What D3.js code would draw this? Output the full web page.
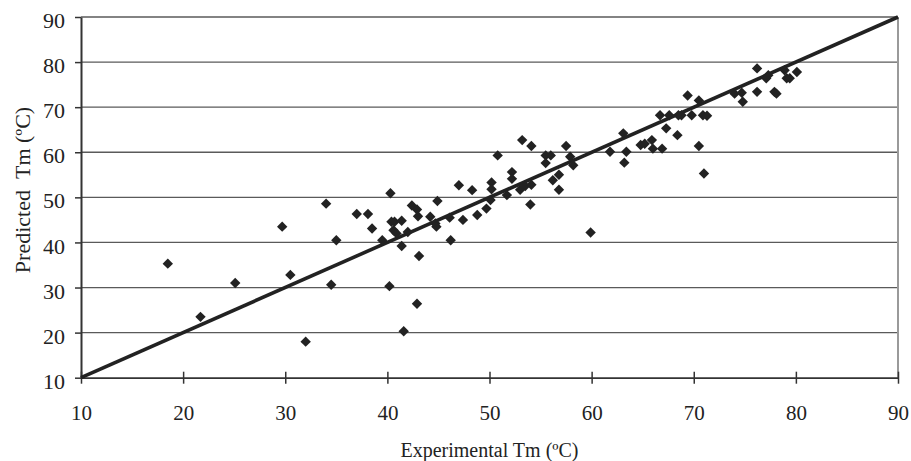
<!DOCTYPE html>
<html>
<head>
<meta charset="utf-8">
<script src="https://cdn.jsdelivr.net/npm/d3@7/dist/d3.min.js"></script>
<style>
  html, body { margin: 0; padding: 0; background: #fff; }
  svg { display: block; font-family: "Liberation Serif", "DejaVu Serif", serif; }
</style>
</head>
<body>
<svg id="chart" width="911" height="461"></svg>
<script>
// Experimental Tm (ºC)
const experimental = [
  18.5, 21.7, 25.1, 29.7, 30.5, 32.0, 34.0, 35.0, 34.5, 37.0,
  38.1, 38.5, 39.5, 40.3, 40.2, 40.4, 40.7, 40.6, 40.9, 41.4,
  41.4, 42.0, 43.1, 42.9, 41.6, 42.4, 42.9, 43.0, 44.2, 44.7,
  44.8, 44.9, 46.2, 46.1, 47.4, 47.0, 48.3, 48.8, 49.7, 50.2,
  50.2, 50.1, 50.8, 51.7, 52.2, 52.2, 53.0, 53.5, 54.1, 53.2,
  54.1, 54.0, 55.5, 56.0, 55.5, 56.2, 56.8, 56.8, 57.5, 57.9,
  58.2, 59.9, 61.8, 63.1, 63.4, 63.2, 64.8, 65.2, 65.9, 66.0,
  66.9, 66.7, 67.6, 68.5, 68.8, 67.3, 68.4, 69.4, 69.8, 70.5,
  70.9, 71.3, 70.5, 71.0, 74.0, 74.7, 74.8, 76.2, 76.2, 77.1,
  77.3, 77.9, 78.1, 78.9, 79.1, 79.4, 80.1
];
// Predicted Tm (ºC)
const predicted = [
  35.3, 23.5, 31.0, 43.5, 32.8, 18.0, 48.6, 40.5, 30.6, 46.3,
  46.3, 43.1, 40.5, 50.9, 30.3, 44.6, 44.6, 42.7, 42.0, 44.8,
  39.2, 42.3, 37.0, 26.4, 20.3, 48.2, 47.3, 45.8, 45.7, 44.2,
  43.5, 49.2, 40.5, 45.5, 45.0, 52.7, 51.6, 46.1, 47.5, 53.3,
  51.8, 49.4, 59.3, 50.5, 55.6, 54.1, 51.7, 52.5, 52.8, 62.7,
  61.4, 48.4, 59.3, 59.3, 57.6, 53.8, 55.0, 51.7, 61.4, 59.0,
  57.1, 42.2, 60.1, 64.2, 60.1, 57.7, 61.6, 61.9, 62.7, 60.8,
  60.8, 68.2, 68.2, 68.2, 68.2, 65.3, 63.8, 72.6, 68.2, 71.5,
  68.2, 68.1, 61.4, 55.3, 73.0, 73.2, 71.2, 73.4, 78.6, 76.4,
  77.1, 73.4, 73.0, 78.2, 76.4, 76.4, 77.8
];
const xTicks = [10, 20, 30, 40, 50, 60, 70, 80, 90];
const yTicks = [10, 20, 30, 40, 50, 60, 70, 80, 90];
const identityLine = [10, 90];
const xTitle = "Experimental Tm (ºC)";
const yTitle = "Predicted\u00a0\u00a0Tm (ºC)";

const svg = d3.select("#chart");
const x = d3.scaleLinear().domain([10, 90]).range([81, 898]);
const y = d3.scaleLinear().domain([10, 90]).range([377.7, 17]);
const ink = "#222";

// horizontal gridlines
svg.append("g").selectAll("line")
  .data(yTicks.filter(d => d > 10))
  .join("line")
  .attr("x1", x(10)).attr("x2", x(90))
  .attr("y1", d => y(d)).attr("y2", d => y(d))
  .attr("stroke", "#5a5a5a").attr("stroke-width", 1.3);

// right border
svg.append("line")
  .attr("x1", x(90)).attr("x2", x(90))
  .attr("y1", y(90)).attr("y2", y(10))
  .attr("stroke", "#9a9a9a").attr("stroke-width", 2);

// y axis
const yAxis = svg.append("g")
  .attr("transform", `translate(${x(10)},0)`)
  .call(d3.axisLeft(y).tickValues(yTicks).tickSize(6).tickPadding(10).tickSizeOuter(0));
yAxis.select(".domain").attr("stroke", "#333").attr("stroke-width", 2);
yAxis.selectAll(".tick line").attr("stroke", "#333").attr("stroke-width", 1.5);
yAxis.selectAll(".tick text")
  .attr("fill", ink).attr("font-size", 22).attr("dy", "0.48em")
  .style("font-family", '"Liberation Serif", serif');

// x axis
const xAxis = svg.append("g")
  .attr("transform", `translate(0,${y(10)})`)
  .call(d3.axisBottom(x).tickValues(xTicks).tickSize(6).tickSizeOuter(0));
xAxis.select(".domain").attr("stroke", "#333").attr("stroke-width", 1.8);
xAxis.selectAll(".tick line").attr("y1", -6).attr("y2", 6)
  .attr("stroke", "#333").attr("stroke-width", 1.5);
xAxis.selectAll(".tick text")
  .attr("fill", ink).attr("font-size", 21).attr("y", 42.8).attr("dy", 0)
  .style("font-family", '"Liberation Serif", serif');

// identity line
svg.append("line")
  .attr("x1", x(identityLine[0])).attr("y1", y(identityLine[0]))
  .attr("x2", x(identityLine[1])).attr("y2", y(identityLine[1]))
  .attr("stroke", ink).attr("stroke-width", 3.6);

// points
const pts = experimental.map((e, i) => [e, predicted[i]]);
svg.append("g").selectAll("path")
  .data(pts)
  .join("path")
  .attr("transform", d => `translate(${x(d[0])},${y(d[1])})`)
  .attr("d", "M0,-5.2L5.2,0L0,5.2L-5.2,0Z")
  .attr("fill", ink);

// titles
svg.append("text")
  .attr("x", (x(10) + x(90)) / 2).attr("y", 457)
  .attr("text-anchor", "middle").attr("font-size", 20).attr("fill", ink)
  .text(xTitle);

svg.append("text")
  .attr("transform", `translate(29.5,190) rotate(-90)`)
  .attr("text-anchor", "middle").attr("font-size", 22).attr("fill", ink)
  .text(yTitle);
</script>
</body>
</html>
